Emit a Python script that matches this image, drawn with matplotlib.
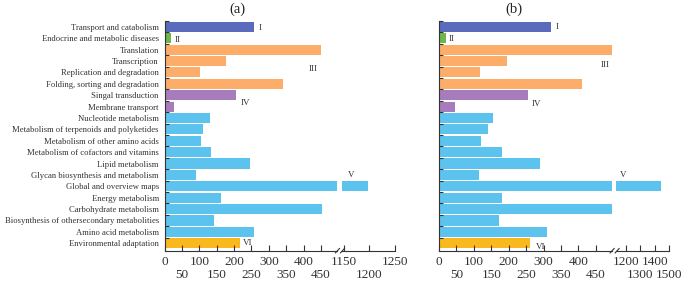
import matplotlib
matplotlib.use("Agg")
import matplotlib.pyplot as plt
from matplotlib.lines import Line2D

categories = [
    "Transport and catabolism",
    "Endocrine and metabolic diseases",
    "Translation",
    "Transcription",
    "Replication and degradation",
    "Folding, sorting and degradation",
    "Singal transduction",
    "Membrane transport",
    "Nucleotide metabolism",
    "Metabolism of terpenoids and polyketides",
    "Metabolism of other amino acids",
    "Metabolism of cofactors and vitamins",
    "Lipid metabolism",
    "Glycan biosynthesis and metabolism",
    "Global and overview maps",
    "Energy metabolism",
    "Carbohydrate metabolism",
    "Biosynthesis of othersecondary metabolities",
    "Amino acid metabolism",
    "Environmental adaptation",
]
groups = ["I", "II", "III", "III", "III", "III", "IV", "IV",
          "V", "V", "V", "V", "V", "V", "V", "V", "V", "V", "V", "VI"]

values_a = [256, 17, 450, 176, 103, 340, 205, 28, 131, 111, 106, 134,
            246, 89, 1198, 161, 452, 141, 257, 217]
values_b = [320, 19, 505, 195, 117, 411, 254, 47, 154, 141, 121, 180,
            291, 114, 1443, 180, 505, 172, 309, 261]

group_colors = {"I": "#5a6bbd", "II": "#6cb64a", "III": "#fdad6a",
                "IV": "#a67cbd", "V": "#5cc2ee", "VI": "#f8b81e"}

left_ticks_major = [0, 100, 200, 300, 400]
left_ticks_minor = [50, 150, 250, 350, 450]
right_ticks_a_major = [1150, 1250]
right_ticks_a_minor = [1200]
right_ticks_b_major = [1200, 1400]
right_ticks_b_minor = [1300, 1500]

# annotation positions (group label, axis part, x, row)
annot_a = [("I", "L", 275, 0.14), ("II", "L", 36, 1.17), ("III", "L", 427, 3.74),
           ("IV", "L", 233, 6.72), ("V", "R", 1165, 13.0), ("VI", "L", 239, 19.0)]
annot_b = [("I", "L", 338, 0.0), ("II", "L", 36, 1.1), ("III", "L", 476, 3.4),
           ("IV", "L", 280, 6.8), ("V", "R", 1181, 13.05), ("VI", "L", 292, 19.3)]

W, H = 685, 285
fig = plt.figure(figsize=(W / 100, H / 100), dpi=100)
plt.rcParams['font.family'] = ['Liberation Serif', 'DejaVu Serif']

top_px, bot_px = 20.7, 250.7
yb = (H - bot_px) / H
hh = (bot_px - top_px) / H


def make_ax(x0, x1):
    return fig.add_axes([x0 / W, yb, (x1 - x0) / W, hh])


n = len(categories)
ypos = list(range(n))
colors = [group_colors[g] for g in groups]
ylim = (19.65, -0.53)
numfs = 9.5


def style_x(ax, major, minor):
    ax.set_xticks(major)
    ax.set_xticks(minor, minor=True)
    ax.set_xticklabels([str(v) for v in major])
    ax.set_xticklabels([str(v) for v in minor], minor=True)
    ax.tick_params(axis='x', which='both', direction='in', length=4.5,
                   width=0.8, labelsize=numfs, colors='#333333')
    ax.tick_params(axis='x', which='major', pad=4)
    ax.tick_params(axis='x', which='minor', pad=13.2)


panels = [
    (values_a, 164.7, 337.2, 341.7, 395.0, (0, 497), (1146, 1250),
     right_ticks_a_major, right_ticks_a_minor, annot_a, True, "(a)", 237),
    (values_b, 439.0, 612.3, 616.0, 669.0, (0, 497), (1130, 1500),
     right_ticks_b_major, right_ticks_b_minor, annot_b, False, "(b)", 514),
]

for (vals, lx0, lx1, rx0, rx1, llim, rlim, rmaj, rmin, annots,
     show_labels, title, tx) in panels:
    axL = make_ax(lx0, lx1)
    axR = make_ax(rx0, rx1)
    for ax, lim in ((axL, llim), (axR, rlim)):
        ax.barh(ypos, vals, height=0.88, color=colors, edgecolor='none')
        ax.set_xlim(*lim)
        ax.set_ylim(*ylim)
        ax.spines['top'].set_visible(False)
        ax.spines['right'].set_visible(False)
        ax.spines['bottom'].set_color('#333333')
        ax.spines['bottom'].set_linewidth(0.8)
        ax.patch.set_alpha(0)
    axR.spines['left'].set_visible(False)
    axR.tick_params(axis='y', which='both', left=False, labelleft=False)
    axL.spines['left'].set_color('#333333')
    axL.spines['left'].set_linewidth(0.8)
    axL.set_yticks(ypos)
    axL.set_yticks([y + 0.5 for y in ypos[:-1]] + [-0.53], minor=True)
    axL.tick_params(axis='y', which='major', length=0, pad=4.2, labelsize=6.2,
                    colors='#333333')
    axL.tick_params(axis='y', which='minor', direction='in', length=3, width=0.8,
                    color='#333333')
    if show_labels:
        axL.set_yticklabels(categories)
    else:
        axL.set_yticklabels([])
    style_x(axL, left_ticks_major, left_ticks_minor)
    style_x(axR, rmaj, rmin)

    for lab, part, xv, row in annots:
        ax = axL if part == "L" else axR
        ax.text(xv, row, lab, ha='center', va='center', fontsize=6.5,
                color='#333333')

    # break marks
    yb_px = bot_px
    for bx in ((lx1 + rx0) / 2 - 4, (lx1 + rx0) / 2 + 1):
        fig.add_artist(Line2D([bx / W, (bx + 4) / W],
                              [(H - yb_px - 2.2) / H, (H - yb_px + 2.2) / H],
                              color='#333333', lw=0.8))

    fig.text(tx / W, 1 - 9 / H, title, ha='center', va='center',
             fontsize=10.5, color='#222222')

fig.savefig("out.png", dpi=100)
